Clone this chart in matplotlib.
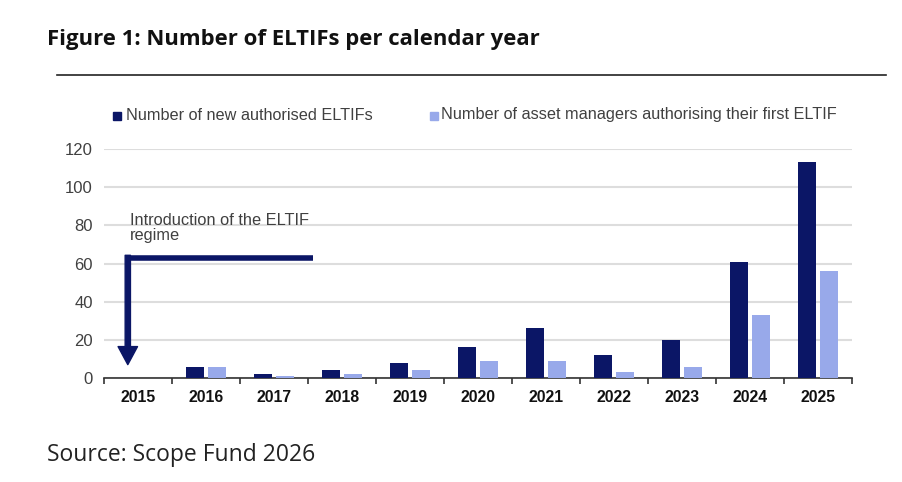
import matplotlib.pyplot as plt
import numpy as np

# data
years = ['2015', '2016', '2017', '2018', '2019', '2020', '2021', '2022', '2023', '2024', '2025']
new_eltifs = [0, 6, 2, 4, 8, 16, 26, 12, 20, 61, 113]
first_eltif_managers = [0, 6, 1, 2, 4, 9, 9, 3, 6, 33, 56]

dark = '#0b1666'
light = '#98a9ea'

fig = plt.figure(figsize=(9.03, 4.82), dpi=100)
ax = fig.add_axes([104/903, 1 - 378/482, 748/903, 229/482])

x = np.arange(len(years))
w = 0.27
ax.bar(x - 0.165, new_eltifs, w, color=dark, zorder=3)
ax.bar(x + 0.165, first_eltif_managers, w, color=light, zorder=3)

ax.set_xlim(-0.5, len(years) - 0.5)
ax.set_ylim(0, 120)
ax.set_yticks(range(0, 121, 20))
ax.grid(axis='y', color='#dddddd', linewidth=1.5, zorder=0)
ax.set_axisbelow(True)
for s in ['top', 'right', 'left']:
    ax.spines[s].set_visible(False)
ax.spines['bottom'].set_color('#333333')
ax.spines['bottom'].set_linewidth(1.2)

ax.set_xticks(np.arange(-0.5, len(years), 1), minor=False)
ax.set_xticklabels([])
ax.tick_params(axis='x', length=4, width=1.2, color='#333333', direction='out')
ax.set_xticks(x, minor=True)
ax.set_xticklabels(years, minor=True, fontweight='bold', fontsize=11.3,
                   family='Liberation Sans', color='#111111')
ax.tick_params(axis='x', which='minor', length=0, pad=9)
ax.tick_params(axis='y', length=0, labelsize=12, labelcolor='#404040', pad=8)
for t in ax.get_yticklabels():
    t.set_family('Liberation Sans')

# annotation arrow
ax.plot([2.57, -0.15], [63, 63], color=dark, linewidth=4, solid_capstyle='butt', zorder=4)
ax.annotate('', xy=(-0.15, 7), xytext=(-0.15, 64.3),
            arrowprops=dict(width=3.8, headwidth=14, headlength=13,
                            color=dark, shrink=0), zorder=4)
ax.text(-0.12, 70.5, 'Introduction of the ELTIF\nregime', fontsize=11.8,
        family='Liberation Sans', color='#404040', linespacing=1.05, va='bottom')

# legend
fig.patches.append(plt.Rectangle((113/903, 1 - 120/482), 8/903, 8/482,
                                 transform=fig.transFigure, color=dark))
fig.text(126/903, 1 - 115/482, 'Number of new authorised ELTIFs', fontsize=11.7,
         family='Liberation Sans', color='#404040', va='center')
fig.patches.append(plt.Rectangle((430/903, 1 - 120/482), 8/903, 8/482,
                                 transform=fig.transFigure, color=light))
fig.text(441/903, 1 - 115/482, 'Number of asset managers authorising their first ELTIF',
         fontsize=11.7, family='Liberation Sans', color='#404040', va='center')

# title, rule, source
fig.text(47/903, 1 - 40/482, 'Figure 1: Number of ELTIFs per calendar year',
         fontsize=15.9, fontweight='bold', family='Open Sans', color='#111111', va='center')
fig.add_artist(plt.Line2D([57/903, 886/903], [1 - 75/482, 1 - 75/482],
                          transform=fig.transFigure, color='#222222', linewidth=1.2))
fig.text(47/903, 1 - 455/482, 'Source: Scope Fund 2026', fontsize=16.5,
         family='Open Sans', color='#222222', va='center')

fig.savefig('out.png', dpi=100)
